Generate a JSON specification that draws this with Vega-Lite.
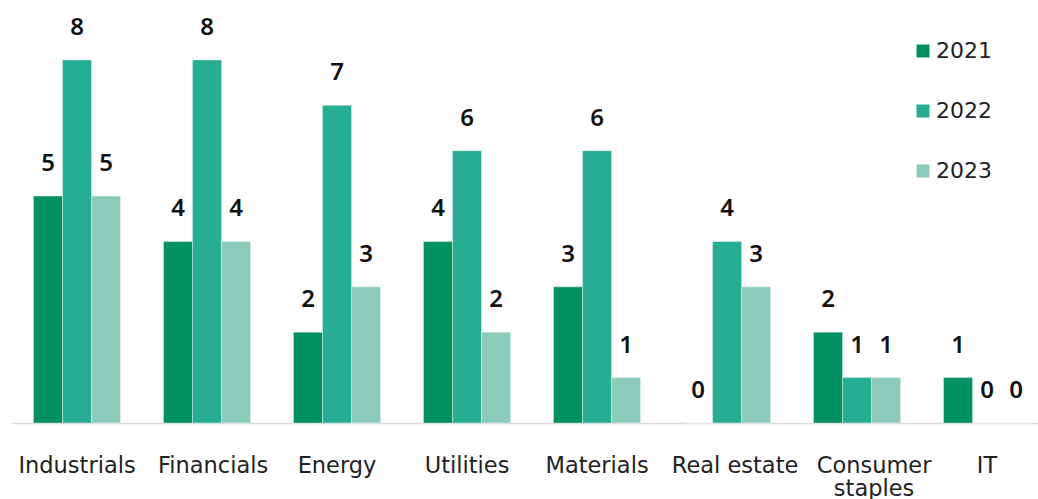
{
  "$schema": "https://vega.github.io/schema/vega-lite/v6.json",
  "width": 1026,
  "height": 423,
  "autosize": {"type": "none"},
  "padding": {"left": 12, "top": 0, "right": 0, "bottom": 76},
  "background": "white",
  "config": {"view": {"stroke": null}, "font": "Noto Sans"},
  "data": {"values": [
    {"sector": "Industrials", "year": "2021", "count": 5},
    {"sector": "Industrials", "year": "2022", "count": 8},
    {"sector": "Industrials", "year": "2023", "count": 5},
    {"sector": "Financials", "year": "2021", "count": 4},
    {"sector": "Financials", "year": "2022", "count": 8},
    {"sector": "Financials", "year": "2023", "count": 4},
    {"sector": "Energy", "year": "2021", "count": 2},
    {"sector": "Energy", "year": "2022", "count": 7},
    {"sector": "Energy", "year": "2023", "count": 3},
    {"sector": "Utilities", "year": "2021", "count": 4},
    {"sector": "Utilities", "year": "2022", "count": 6},
    {"sector": "Utilities", "year": "2023", "count": 2},
    {"sector": "Materials", "year": "2021", "count": 3},
    {"sector": "Materials", "year": "2022", "count": 6},
    {"sector": "Materials", "year": "2023", "count": 1},
    {"sector": "Real estate", "year": "2021", "count": 0},
    {"sector": "Real estate", "year": "2022", "count": 4},
    {"sector": "Real estate", "year": "2023", "count": 3},
    {"sector": "Consumer staples", "year": "2021", "count": 2},
    {"sector": "Consumer staples", "year": "2022", "count": 1},
    {"sector": "Consumer staples", "year": "2023", "count": 1},
    {"sector": "IT", "year": "2021", "count": 1},
    {"sector": "IT", "year": "2022", "count": 0},
    {"sector": "IT", "year": "2023", "count": 0}
  ]},
  "encoding": {
    "x": {
      "field": "sector", "type": "nominal", "sort": null,
      "scale": {"paddingInner": 0.33, "paddingOuter": 0.111, "align": 0.744},
      "axis": {
        "title": null, "labelAngle": 0, "ticks": false,
        "domainColor": "#d9d9d9", "domainWidth": 1.5,
        "labelFont": "DejaVu Sans", "labelFontSize": 22.5, "labelColor": "#222222", "labelPadding": 31,
        "labelLineHeight": 23, "labelBaseline": "top",
        "labelExpr": "datum.label == 'Consumer staples' ? ['Consumer', 'staples'] : datum.label",
        "labelOffset": {"condition": [
          {"test": "datum.value == 'Financials'", "value": 6},
          {"test": "datum.value == 'Real estate'", "value": 8},
          {"test": "datum.value == 'Consumer staples'", "value": 17}
        ], "value": 0}
      }
    },
    "xOffset": {"field": "year", "type": "nominal", "scale": {"paddingInner": 0, "paddingOuter": 0}},
    "y": {
      "field": "count", "type": "quantitative",
      "scale": {"domain": [0, 9.322], "nice": false, "zero": true},
      "axis": null
    }
  },
  "layer": [
    {
      "mark": {"type": "bar", "stroke": "#ffffff", "strokeWidth": 0.6, "strokeOpacity": 0.6},
      "encoding": {
        "color": {
          "field": "year", "type": "nominal",
          "scale": {"domain": ["2021", "2022", "2023"], "range": ["#00915f", "#26ad93", "#8ccbba"]},
          "legend": {
            "title": null, "orient": "none", "legendX": 900, "legendY": 40,
            "symbolType": "square", "symbolSize": 169, "symbolStrokeWidth": 0,
            "labelFont": "DejaVu Sans", "labelFontSize": 22, "labelColor": "#222222", "labelOffset": 2,
            "rowPadding": 38, "padding": 0
          }
        }
      }
    },
    {
      "mark": {"type": "text", "baseline": "alphabetic", "dy": -25, "fontSize": 24, "fontWeight": 600, "color": "#111111"},
      "encoding": {"text": {"field": "count", "type": "quantitative"}}
    }
  ]
}
